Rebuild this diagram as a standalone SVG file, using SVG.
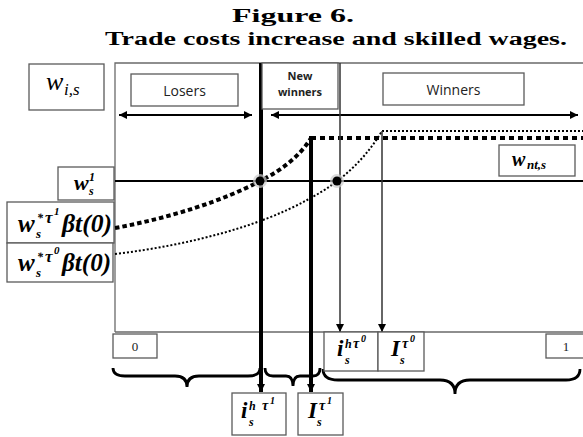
<svg xmlns="http://www.w3.org/2000/svg" width="583" height="437" viewBox="0 0 583 437">
<defs>
<style>
.box{fill:#fff;stroke:#5a5a5a;stroke-width:1.3}
.frame{fill:none;stroke:#6a6a6a;stroke-width:1.3}
.title{font-family:"Liberation Serif",serif;font-weight:bold;fill:#000}
.lbl{font-family:"Open Sans","Liberation Sans",sans-serif;fill:#222}
.m{font-family:"Liberation Serif",serif;font-style:italic;font-weight:bold;fill:#000}
.mi{font-family:"Liberation Serif",serif;font-style:italic;fill:#000}
.num{font-family:"Liberation Serif",serif;fill:#222;font-size:13px}
.brace{fill:none;stroke:#000;stroke-width:2.8}
</style>
<marker id="ah" viewBox="0 0 10 10" refX="10" refY="5" markerWidth="10" markerHeight="8" markerUnits="userSpaceOnUse" orient="auto-start-reverse"><path d="M0,0 L10,5 L0,10 z" fill="#000"/></marker>
<marker id="ahb" viewBox="0 0 10 10" refX="10" refY="5" markerWidth="8" markerHeight="12" markerUnits="userSpaceOnUse" orient="auto"><path d="M0,0 L10,5 L0,10 z" fill="#000"/></marker>
<marker id="aht" viewBox="0 0 10 10" refX="10" refY="5" markerWidth="9" markerHeight="8" markerUnits="userSpaceOnUse" orient="auto"><path d="M0,0 L10,5 L0,10 z" fill="#000"/></marker>
</defs>
<rect width="583" height="437" fill="#fff"/>
<g id="title">
<text class="title" x="293" y="22" font-size="18" text-anchor="middle" textLength="122" lengthAdjust="spacingAndGlyphs">Figure 6.</text>
<text class="title" x="336" y="45" font-size="18" text-anchor="middle" textLength="462" lengthAdjust="spacingAndGlyphs">Trade costs increase and skilled wages.</text>
</g>
<g id="frame">
<path class="frame" d="M115,332 V63 H583 M115,332 H583"/>
</g>
<g id="connectors">
<line x1="115" y1="181" x2="583" y2="181" stroke="#000" stroke-width="2"/>
<path d="M115,228 C170,218 225,200 260,181 C282,170 300,156 311,138" fill="none" stroke="#000" stroke-width="4" stroke-dasharray="4.5 3"/>
<line x1="311" y1="138" x2="583" y2="138" stroke="#000" stroke-width="4" stroke-dasharray="5 4"/>
<path d="M115,254 C190,245 260,226 307,200 C330,188 360,168 382,131" fill="none" stroke="#000" stroke-width="2" stroke-dasharray="2 2"/>
<line x1="382" y1="131" x2="583" y2="131" stroke="#000" stroke-width="2" stroke-dasharray="2 2"/>
<line x1="119" y1="115" x2="252" y2="115" stroke="#000" stroke-width="1.8" marker-start="url(#ah)" marker-end="url(#ah)"/>
<line x1="271" y1="115" x2="578" y2="115" stroke="#000" stroke-width="1.8" marker-start="url(#ah)" marker-end="url(#ah)"/>
<line x1="261" y1="63" x2="261" y2="392" stroke="#000" stroke-width="4" marker-end="url(#ahb)"/>
<line x1="311" y1="136" x2="311" y2="392" stroke="#000" stroke-width="4" marker-end="url(#ahb)"/>
<line x1="340" y1="63" x2="340" y2="332" stroke="#333" stroke-width="1.5" marker-end="url(#aht)"/>
<line x1="382" y1="131" x2="382" y2="332" stroke="#333" stroke-width="1.5" marker-end="url(#aht)"/>
<path class="brace" d="M113,368 Q113,376 125,376 L175,376 Q187,376 187,387 Q187,376 199,376 L248,376 Q260,376 260,368"/>
<path class="brace" d="M265,368 Q265,376 273,376 L286,376 Q293,376 293,386 Q293,376 300,376 L313,376 Q320,376 320,368"/>
<path class="brace" d="M323,369 Q323,380 338,380 L440,380 Q455,380 455,394 Q455,380 470,380 L566,380 Q580,380 580,369"/>
</g>
<g id="dots">
<circle cx="260" cy="181" r="7" fill="#ccc" opacity="0.7"/>
<circle cx="260" cy="181" r="4.5" fill="#000"/>
<circle cx="337" cy="181" r="7" fill="#ccc" opacity="0.7"/>
<circle cx="337" cy="181" r="4.5" fill="#000"/>
</g>
<g id="w_is"><rect class="box" x="29" y="64" width="75" height="46"/>
<text class="mi" font-size="26"><tspan x="46" y="90">w</tspan><tspan x="64" y="95" font-size="17">i,s</tspan></text></g>
<g id="losers"><rect class="box" x="131" y="74" width="107" height="32"/>
<text class="lbl" x="184.5" y="96" font-size="14" text-anchor="middle">Losers</text></g>
<g id="new-winners"><rect class="box" x="262" y="63" width="76" height="46"/>
<text class="lbl" x="300" y="80" font-size="11" font-weight="bold" text-anchor="middle">New</text>
<text class="lbl" x="300" y="96" font-size="11" font-weight="bold" text-anchor="middle">winners</text></g>
<g id="winners"><rect class="box" x="383" y="73" width="141" height="32"/>
<text class="lbl" x="453.5" y="95" font-size="14" text-anchor="middle">Winners</text></g>
<g id="w_nts"><rect class="box" x="499" y="145" width="76" height="31"/>
<text class="m" font-size="20"><tspan x="512" y="166">w</tspan><tspan x="527" y="169" font-size="13">nt,s</tspan></text></g>
<g id="w_s1"><rect class="box" x="58" y="167" width="56" height="33"/>
<text class="m" font-size="22"><tspan x="74" y="190">w</tspan><tspan x="89" y="195" font-size="12">s</tspan><tspan x="89" y="181" font-size="12">1</tspan></text></g>
<g id="w_tau1"><rect class="box" x="7" y="202" width="107" height="41"/>
<text class="m" font-size="25"><tspan x="18" y="232">w</tspan><tspan x="36" y="238" font-size="13">s</tspan><tspan x="37" y="222" font-size="12">*</tspan><tspan x="45" y="223" font-size="17">τ</tspan><tspan x="54" y="215" font-size="11">1</tspan><tspan x="62" y="232" textLength="50" lengthAdjust="spacingAndGlyphs">βt(0)</tspan></text></g>
<g id="w_tau0"><rect class="box" x="7" y="243" width="106" height="39"/>
<text class="m" font-size="25"><tspan x="18" y="271">w</tspan><tspan x="36" y="277" font-size="13">s</tspan><tspan x="37" y="261" font-size="12">*</tspan><tspan x="45" y="262" font-size="17">τ</tspan><tspan x="54" y="254" font-size="11">0</tspan><tspan x="62" y="271" textLength="49" lengthAdjust="spacingAndGlyphs">βt(0)</tspan></text></g>
<g id="zero"><rect class="box" x="113" y="334" width="44" height="24"/>
<text class="num" x="135" y="351" text-anchor="middle">0</text></g>
<g id="one"><rect class="box" x="546" y="334" width="40" height="24"/>
<text class="num" x="566" y="351" text-anchor="middle">1</text></g>
<g id="i_tau0"><rect class="box" x="324" y="332" width="54" height="39"/>
<text class="m" font-size="23"><tspan x="337" y="356">i</tspan><tspan x="345" y="364" font-size="12">s</tspan><tspan x="345" y="348" font-size="12">h</tspan><tspan x="353" y="348" font-size="14">τ</tspan><tspan x="361" y="342" font-size="10">0</tspan></text></g>
<g id="I_tau0"><rect class="box" x="378" y="332" width="46" height="39"/>
<text class="m" font-size="23"><tspan x="391" y="356">I</tspan><tspan x="400" y="364" font-size="12">s</tspan><tspan x="402" y="348" font-size="14">τ</tspan><tspan x="410" y="342" font-size="10">0</tspan></text></g>
<g id="i_tau1"><rect class="box" x="232" y="393" width="54" height="42"/>
<text class="m" font-size="23"><tspan x="241" y="418">i</tspan><tspan x="249" y="426" font-size="12">s</tspan><tspan x="249" y="410" font-size="12">h</tspan><tspan x="262" y="410" font-size="14">τ</tspan><tspan x="270" y="404" font-size="10">1</tspan></text></g>
<g id="I_tau1"><rect class="box" x="298" y="393" width="45" height="42"/>
<text class="m" font-size="23"><tspan x="308" y="418">I</tspan><tspan x="317" y="426" font-size="12">s</tspan><tspan x="319" y="410" font-size="14">τ</tspan><tspan x="327" y="404" font-size="10">1</tspan></text></g>
</svg>
